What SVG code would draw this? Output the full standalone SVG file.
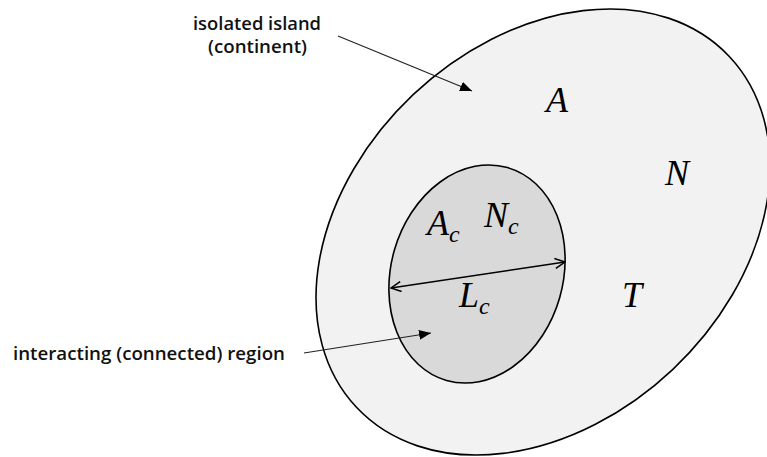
<svg xmlns="http://www.w3.org/2000/svg" width="767" height="457" viewBox="0 0 767 457">
<style>
.region{stroke:#000;stroke-width:1.6}
.math{font-family:"Liberation Serif","DejaVu Serif",serif;font-style:italic;font-size:36px;fill:#000}
.sub{font-size:24px}
.lbl{font-family:"Open Sans","Liberation Sans",sans-serif;font-size:18.5px;font-weight:600;fill:#111}
.lead{stroke:#222;stroke-width:1.2;fill:none}
</style>
<defs>
<marker id="solid" viewBox="0 0 12 10" refX="12" refY="5" markerWidth="12" markerHeight="10" markerUnits="userSpaceOnUse" orient="auto">
<path d="M0,0 L12,5 L0,10 Z" fill="#000"/>
</marker>
<marker id="open" viewBox="0 0 12 12" refX="11" refY="6" markerWidth="12" markerHeight="12" markerUnits="userSpaceOnUse" orient="auto-start-reverse">
<path d="M1,1 L11,6 L1,11" fill="none" stroke="#000" stroke-width="1.5"/>
</marker>
</defs>
<rect width="767" height="457" fill="#fff"/>
<g id="continent">
<ellipse class="region" cx="543" cy="232" rx="256" ry="189" transform="rotate(-43.3 543 232)" fill="#f2f2f2"/>
<text class="math" x="546" y="112">A</text>
<text class="math" x="665" y="185">N</text>
<text class="math" x="622" y="307">T</text>
</g>
<g id="connected">
<ellipse class="region" cx="477" cy="274" rx="86" ry="110.7" transform="rotate(16 477 274)" fill="#d9d9d9"/>
<text class="math" x="427" y="235">A<tspan class="sub" dy="7">c</tspan></text>
<text class="math" x="484" y="227">N<tspan class="sub" dy="7">c</tspan></text>
<text class="math" x="459" y="307">L<tspan class="sub" dy="7">c</tspan></text>
</g>
<g id="label-continent">
<text class="lbl" x="193" y="30" textLength="128" lengthAdjust="spacingAndGlyphs">isolated island</text>
<text class="lbl" x="208" y="53" textLength="99" lengthAdjust="spacingAndGlyphs">(continent)</text>
</g>
<g id="label-connected">
<text class="lbl" x="13" y="360" textLength="272" lengthAdjust="spacingAndGlyphs">interacting (connected) region</text>
</g>
<g id="connectors">
<line class="lead" x1="338" y1="36" x2="472" y2="91" marker-end="url(#solid)"/>
<line class="lead" x1="304" y1="353" x2="431" y2="333" marker-end="url(#solid)"/>
<line x1="391" y1="288" x2="565" y2="262" stroke="#000" stroke-width="1.6" marker-start="url(#open)" marker-end="url(#open)"/>
</g>
</svg>
